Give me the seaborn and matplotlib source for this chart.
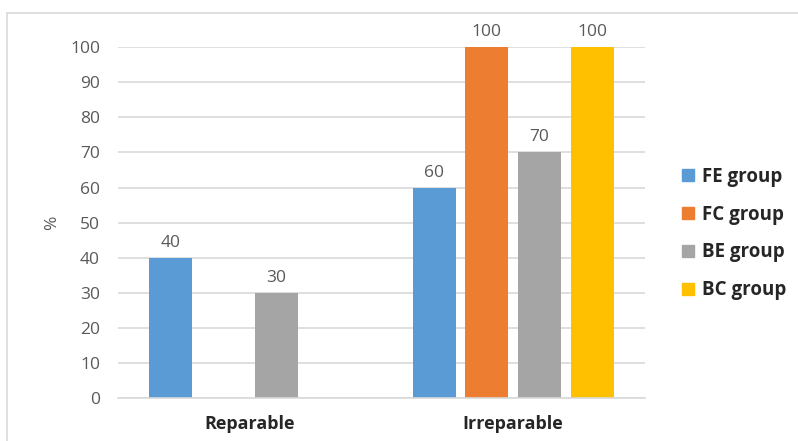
import matplotlib
matplotlib.use("Agg")
import matplotlib.pyplot as plt
import seaborn as sns
import pandas as pd
from matplotlib.lines import Line2D

categories = ["Reparable", "Irreparable"]
groups = ["FE group", "FC group", "BE group", "BC group"]
fe_values = [40, 60]
fc_values = [0, 100]
be_values = [30, 70]
bc_values = [0, 100]
colors = ["#5B9BD5", "#ED7D31", "#A5A5A5", "#FFC000"]
yticks = [0, 10, 20, 30, 40, 50, 60, 70, 80, 90, 100]

rows = []
for g, vals in zip(groups, [fe_values, fc_values, be_values, bc_values]):
    for c, v in zip(categories, vals):
        rows.append({"category": c, "group": g, "value": v})
df = pd.DataFrame(rows)

sns.set_style("white")
plt.rcParams["font.family"] = ["Open Sans", "DejaVu Sans"]

fig = plt.figure(figsize=(7.98, 4.41), dpi=100)
ax = fig.add_axes([0.148, 0.0975, 0.660, 0.7955])

sns.barplot(data=df, x="category", y="value", hue="group", order=categories,
            hue_order=groups, palette=colors, width=0.8, gap=0.18,
            saturation=1, ax=ax, legend=False, errorbar=None, linewidth=0)

ax.set_ylim(0, 100)
ax.set_xlim(-0.5, 1.5)
ax.set_yticks(yticks)
ax.set_yticklabels([str(t) for t in yticks], fontsize=12.5, color="#595959")
ax.tick_params(axis="y", length=0, pad=13)
ax.tick_params(axis="x", length=0, pad=12)
for lbl in ax.get_xticklabels():
    lbl.set_fontweight("bold")
    lbl.set_fontsize(13)
    lbl.set_color("#262626")
ax.grid(axis="y", color="#D9D9D9", linewidth=1.2)
ax.set_axisbelow(True)
for s in ["top", "right", "left"]:
    ax.spines[s].set_visible(False)
ax.spines["bottom"].set_color("#D9D9D9")
ax.spines["bottom"].set_linewidth(1.2)
ax.set_xlabel("")
ax.set_ylabel("%", fontsize=12.5, color="#595959", labelpad=7)

for cont in ax.containers:
    labels = [f"{int(b.get_height())}" if b.get_height() > 0 else "" for b in cont]
    ax.bar_label(cont, labels=labels, padding=5, fontsize=12.5, color="#595959", clip_on=False)

handles = [Line2D([0], [0], marker="s", linestyle="", markersize=8,
                  markerfacecolor=c, markeredgecolor=c) for c in colors]
leg = fig.legend(handles, groups, loc="upper left", bbox_to_anchor=(0.829, 0.66),
                 frameon=False, labelspacing=0.95, handletextpad=0.25,
                 prop={"weight": "bold", "size": 13.5}, handlelength=1.0)

# outer border (top and left)
fig.add_artist(Line2D([7/798, 7/798], [0, 1 - 13/441], transform=fig.transFigure,
                      color="#D9D9D9", linewidth=1.2))
fig.add_artist(Line2D([7/798, 1], [1 - 13/441, 1 - 13/441], transform=fig.transFigure,
                      color="#D9D9D9", linewidth=1.2))

fig.savefig("out.png", dpi=100)
